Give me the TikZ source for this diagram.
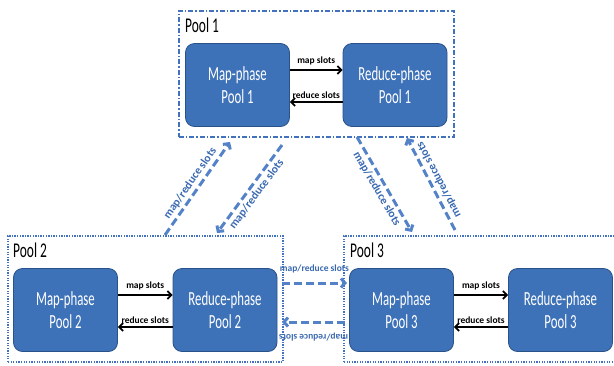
\documentclass[tikz,border=0pt]{standalone}
\usepackage{fontspec}
\setmainfont{Carlito}
\newfontfamily\narrowfont[FakeStretch=0.64]{Carlito}
\usetikzlibrary{arrows.meta}

\definecolor{boxfill}{RGB}{62,114,184}
\definecolor{boxedge}{RGB}{42,82,138}
\definecolor{poolline}{RGB}{66,114,190}
\definecolor{linkblue}{RGB}{84,130,200}
\definecolor{linktext}{RGB}{56,104,176}

\begin{document}
\begin{tikzpicture}[x=1pt,y=-1pt,
  phase/.style={draw=boxedge, line width=0.8pt, fill=boxfill, rounded corners=9pt,
    minimum width=104pt, minimum height=83pt, text=white, align=center, inner sep=0pt,
    font=\narrowfont\fontsize{20}{23}\selectfont},
  pooltitle/.style={anchor=base west, inner sep=0pt,
    font=\narrowfont\fontsize{21}{21}\selectfont},
  poolbox/.style={anchor=north west, inner sep=0pt, line width=1.8pt, draw=poolline},
  poolone/.style={poolbox, dash pattern=on 5pt off 2pt on 1.5pt off 2pt},
  pooldots/.style={poolbox, dash pattern=on 1.3pt off 1.3pt},
  slotarrow/.style={draw=black, line width=1.7pt, -{Straight Barb[length=4pt,width=8pt]}},
  slotlabel/.style={font=\bfseries\fontsize{9.5}{10}\selectfont, inner sep=1pt},
  linkarrow/.style={draw=linkblue, line width=3pt, dash pattern=on 8pt off 4pt,
    -{Straight Barb[length=4pt,width=9pt]}},
  linklabel/.style={font=\bfseries\fontsize{9.5}{10}\selectfont, text=linktext, inner sep=1.5pt},
  slantlabel/.style={linklabel, font=\bfseries\fontsize{11.5}{12}\selectfont},
]
\useasboundingbox (0,0) rectangle (614,365);

% pool containers
\node[poolone, minimum width=275pt, minimum height=126pt] (pool1) at (178,10) {};
\node[pooldots, minimum width=275pt, minimum height=126pt] (pool2) at (7,235) {};
\node[pooldots, minimum width=275pt, minimum height=126pt] (pool3) at (343,235) {};

\node[pooltitle] (t1) at (185,32) {Pool 1};
\node[pooltitle] (t2) at (13,257) {Pool 2};
\node[pooltitle] (t3) at (350,257) {Pool 3};

% phase pools
\node[phase] (m1) at (237.5,85) {Map-phase\\Pool 1};
\node[phase] (r1) at (395,85) {Reduce-phase\\Pool 1};
\node[phase] (m2) at (65.5,310) {Map-phase\\Pool 2};
\node[phase] (r2) at (225,310) {Reduce-phase\\Pool 2};
\node[phase] (m3) at (401.5,310) {Map-phase\\Pool 3};
\node[phase] (r3) at (560.5,310) {Reduce-phase\\Pool 3};

% slot exchange inside each pool
\foreach \m/\r in {m1/r1, m2/r2, m3/r3}{
  \draw[slotarrow] ([yshift=15pt]\m.east) -- node[above=3pt, slotlabel]{map slots} ([yshift=15pt]\r.west);
  \draw[slotarrow] ([yshift=-17pt]\r.west) -- node[above=2pt, slotlabel]{reduce slots} ([yshift=-17pt]\m.east);
}

% links between pools
\coordinate (a1) at (165,235);
\coordinate (a2) at (230,142);
\coordinate (b1) at (282,145);
\coordinate (b2) at (217,233);
\coordinate (c1) at (357,137);
\coordinate (c2) at (412,232);
\coordinate (d1) at (455,230);
\coordinate (d2) at (407,138);
\coordinate (e1) at (282,283);
\coordinate (e2) at (347,283);
\coordinate (f1) at (345,322);
\coordinate (f2) at (282,322);

\draw[linkarrow] (a1) -- node[sloped, above=1pt, slantlabel]{map/reduce slots} (a2);
\draw[linkarrow] (b1) -- node[sloped, below=1pt, slantlabel]{map/reduce slots} (b2);
\draw[linkarrow] (c1) -- node[sloped, below=1pt, slantlabel]{map/reduce slots} (c2);
\draw[linkarrow] (d1) -- node[sloped, allow upside down, below=1pt, slantlabel]{map/reduce slots} (d2);
\draw[linkarrow] (e1) -- node[above=7pt, linklabel]{map/reduce slots} (e2);
\draw[linkarrow] (f1) -- node[sloped, allow upside down, above=8pt, linklabel]{map/reduce slots} (f2);
\end{tikzpicture}
\end{document}
